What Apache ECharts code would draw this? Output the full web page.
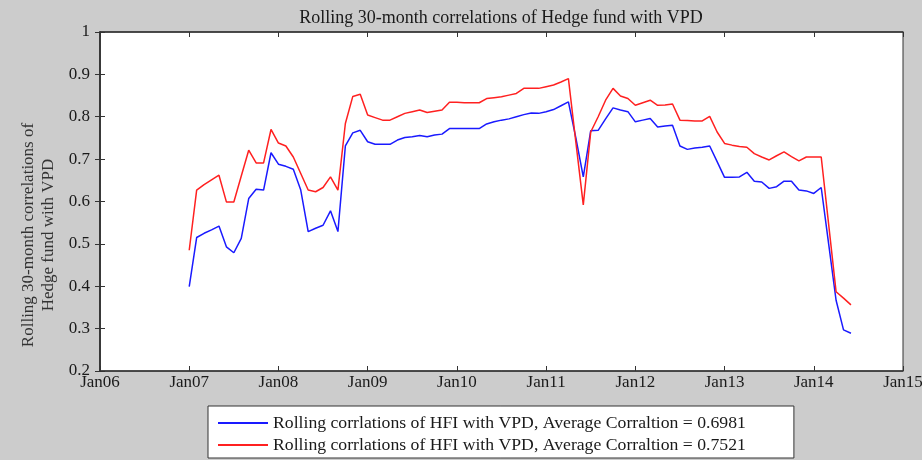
<!DOCTYPE html>
<html>
<head>
<meta charset="utf-8">
<script src="https://cdn.jsdelivr.net/npm/echarts@6/dist/echarts.min.js"></script>
<style>
html,body{margin:0;padding:0;background:#cccccc;}
#c{width:922px;height:460px;}
</style>
</head>
<body>
<div id="c"></div>
<script>
// Months counted from Jan 2006 (0 = Jan06). Monthly observations start at Jan 2007.
const startMonth = 12;
const xTickLabels = ['Jan06','Jan07','Jan08','Jan09','Jan10','Jan11','Jan12','Jan13','Jan14','Jan15'];
const yTickLabels = ['0.2','0.3','0.4','0.5','0.6','0.7','0.8','0.9','1'];

const seriesNames = [
  'Rolling corrlations of HFI with VPD, Average Corraltion = 0.6981',
  'Rolling corrlations of HFI with VPD, Average Corraltion = 0.7521'
];

const blueValues = [
  0.399,0.515,0.525,0.533,0.542,0.493,0.479,0.513,0.607,0.629,0.627,0.715,
  0.688,0.683,0.676,0.627,0.529,0.537,0.544,0.578,0.529,0.731,0.762,0.768,
  0.741,0.735,0.735,0.735,0.745,0.751,0.753,0.756,0.753,0.757,0.759,0.772,
  0.772,0.772,0.772,0.772,0.783,0.788,0.792,0.795,0.800,0.805,0.809,0.808,
  0.812,0.817,0.826,0.835,0.750,0.658,0.767,0.768,0.795,0.821,0.816,0.812,
  0.788,0.792,0.796,0.776,0.778,0.780,0.731,0.723,0.726,0.728,0.731,0.694,
  0.657,0.657,0.658,0.669,0.648,0.646,0.631,0.635,0.648,0.648,0.627,0.625,
  0.619,0.633,0.500,0.367,0.297,0.289
];

const redValues = [
  0.485,0.627,0.640,0.651,0.662,0.599,0.599,0.660,0.721,0.691,0.691,0.770,
  0.738,0.731,0.705,0.666,0.627,0.623,0.633,0.658,0.627,0.784,0.848,0.853,
  0.804,0.798,0.792,0.792,0.800,0.808,0.812,0.816,0.810,0.813,0.816,0.834,
  0.834,0.833,0.833,0.833,0.843,0.845,0.847,0.851,0.855,0.867,0.867,0.867,
  0.871,0.875,0.882,0.890,0.740,0.592,0.764,0.800,0.839,0.867,0.849,0.843,
  0.827,0.833,0.839,0.827,0.828,0.830,0.792,0.791,0.790,0.790,0.801,0.764,
  0.737,0.733,0.730,0.728,0.713,0.705,0.698,0.708,0.717,0.706,0.696,0.705,
  0.705,0.705,0.546,0.387,0.372,0.356
];

const toPairs = vals => vals.map((v, i) => [startMonth + i, v]);

const chart = echarts.init(document.getElementById('c'), null, {renderer: 'canvas'});
const serif = 'Liberation Serif';
const axisColor = '#333';

const xLabel = v => xTickLabels[Math.round(v / 12)] || '';
const yLabel = v => yTickLabels[Math.round((v - 0.2) * 10)] || '';

chart.setOption({
  backgroundColor: '#cccccc',
  animation: false,
  title: {
    text: 'Rolling 30-month correlations of Hedge fund with VPD',
    left: 496, top: 4, textAlign: 'center',
    textStyle: {fontFamily: serif, fontSize: 18, fontWeight: 'normal', color: '#1a1a1a'}
  },
  grid: {
    left: 100, right: 19, top: 32, bottom: 89,
    outerBoundsMode: 'none', containLabel: false,
    show: true, backgroundColor: '#ffffff', borderColor: axisColor, borderWidth: 1
  },
  legend: {
    orient: 'vertical',
    left: 208, top: 406,
    backgroundColor: '#ffffff',
    borderColor: axisColor, borderWidth: 1, borderRadius: 0,
    padding: [8, 48, 4, 10],
    itemWidth: 50, itemHeight: 2, itemGap: 4,
    icon: 'rect',
    textStyle: {fontFamily: serif, fontSize: 17.7, color: '#1a1a1a'},
    data: seriesNames
  },
  xAxis: [{
    type: 'value', min: 0, max: 108, interval: 12,
    axisLine: {show: true, lineStyle: {color: axisColor, width: 1.5}},
    axisTick: {show: true, inside: true, length: 5, lineStyle: {color: axisColor}},
    axisLabel: {formatter: xLabel, fontFamily: serif, fontSize: 17, color: '#1a1a1a', margin: 3, showMaxLabel: true, showMinLabel: true},
    splitLine: {show: false}
  }, {
    type: 'value', min: 0, max: 108, interval: 12, position: 'top',
    axisLine: {show: true, lineStyle: {color: axisColor, width: 1.5}},
    axisTick: {show: true, inside: true, length: 5, lineStyle: {color: axisColor}},
    axisLabel: {show: false}, splitLine: {show: false}
  }],
  yAxis: [{
    type: 'value', min: 0.2, max: 1, interval: 0.1,
    axisLine: {show: true, lineStyle: {color: axisColor, width: 1.5}},
    axisTick: {show: true, inside: true, length: 5, lineStyle: {color: axisColor}},
    axisLabel: {formatter: yLabel, fontFamily: serif, fontSize: 17, color: '#1a1a1a', margin: 10},
    splitLine: {show: false}
  }, {
    type: 'value', min: 0.2, max: 1, interval: 0.1, position: 'right',
    axisLine: {show: true, lineStyle: {color: axisColor, width: 1.5}},
    axisTick: {show: true, inside: true, length: 5, lineStyle: {color: axisColor}},
    axisLabel: {show: false}, splitLine: {show: false}
  }],
  graphic: [{
    type: 'text',
    x: 39, y: 235,
    rotation: Math.PI / 2,
    style: {
      text: 'Rolling 30-month correlations of\nHedge fund with VPD',
      fontFamily: serif, fontSize: 17, fill: '#333',
      align: 'center', verticalAlign: 'middle', lineHeight: 20
    }
  }],
  series: [{
    name: seriesNames[0], type: 'line', symbol: 'none',
    xAxisIndex: 0, yAxisIndex: 0,
    lineStyle: {color: '#1a1aff', width: 1.5}, itemStyle: {color: '#1a1aff'},
    data: toPairs(blueValues)
  }, {
    name: seriesNames[1], type: 'line', symbol: 'none',
    xAxisIndex: 0, yAxisIndex: 0,
    lineStyle: {color: '#ff2020', width: 1.5}, itemStyle: {color: '#ff2020'},
    data: toPairs(redValues)
  }]
});
</script>
</body>
</html>
